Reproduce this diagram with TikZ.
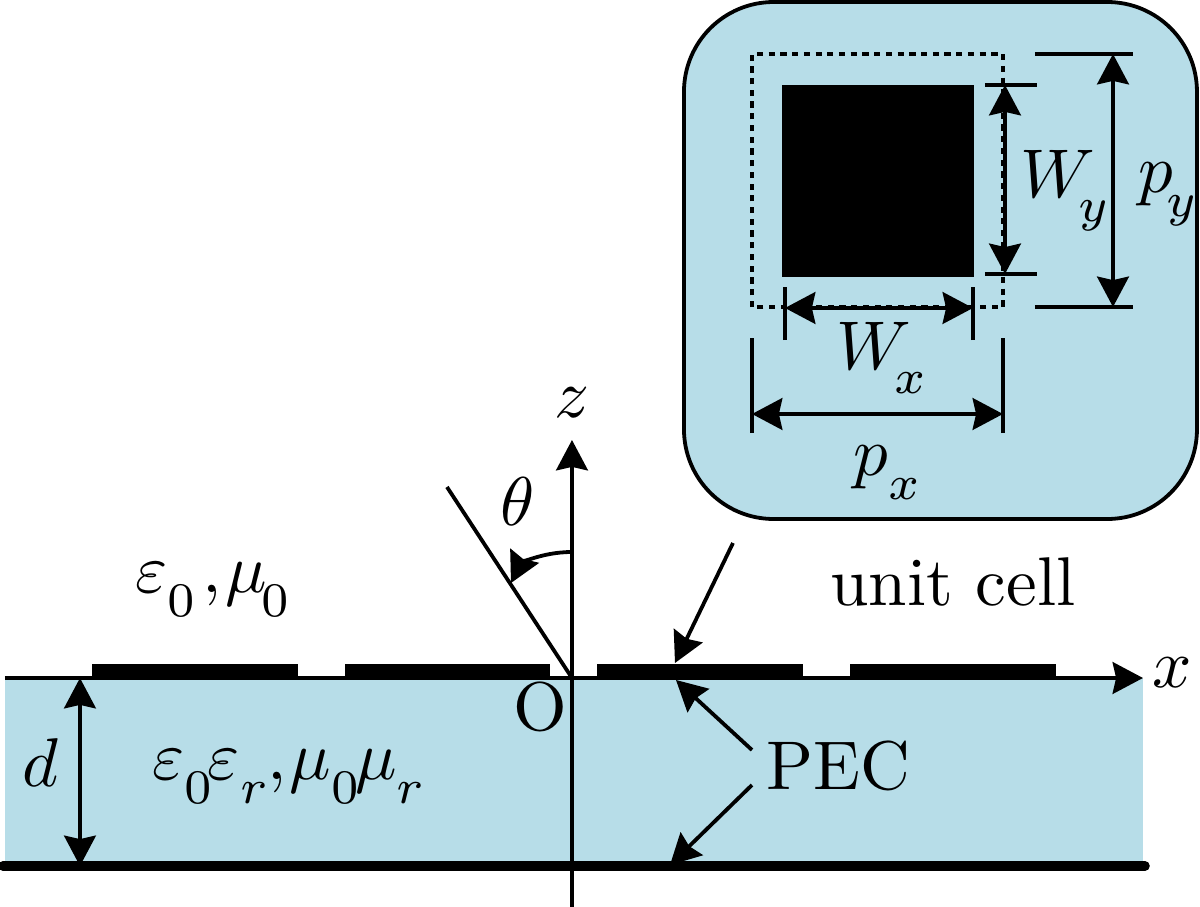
\documentclass[tikz,border=0pt]{standalone}
\usetikzlibrary{arrows.meta}
\definecolor{cellblue}{HTML}{B7DDE8}
\newcommand{\lowsub}[1]{_{\lower2pt\hbox{$\scriptstyle#1$}}}
\scriptspace=0pt
\tikzset{
  >={Stealth[length=4.4pt,width=4.6pt,inset=0.5pt]},
  label/.style={inner sep=0pt},
  tick/.style={line width=0.5pt},
}
\begin{document}
\begin{tikzpicture}[scale=0.145, line width=0.55pt]
  \useasboundingbox (-572pt,678pt) rectangle (628pt,-229pt);

  % substrate
  \fill[cellblue] (-567pt,0pt) rectangle (571pt,-188pt);
  \draw[line width=1.4pt, line cap=round] (-569pt,-188pt) -- (573pt,-188pt);

  % patches
  \fill (-480pt,0pt) rectangle (-274pt,14pt);
  \fill (-227pt,0pt) rectangle (-22pt,14pt);
  \fill (25pt,0pt) rectangle (231pt,14pt);
  \fill (278pt,0pt) rectangle (484pt,14pt);

  % axes
  \coordinate (O) at (0pt,0pt);
  \coordinate (xstart) at (-567pt,0pt);
  \coordinate (xend) at (571pt,0pt);
  \coordinate (zstart) at (0pt,-229pt);
  \coordinate (zend) at (0pt,238pt);
  \coordinate (inc) at (-125pt,191pt);
  \draw[->] (xstart) -- (xend);
  \draw[->] (zstart) -- (zend);
  \draw (O) -- (inc);
  \draw[->] (0pt,126pt) .. controls (-32pt,126pt) and (-52pt,113pt) .. (-61pt,95pt);

  \node[label] (xlab) at (600pt,5pt) {$x$};
  \node[label] (zlab) at (0pt,275pt) {$z$};
  \node[label] (theta) at (-54pt,176pt) {$\theta$};
  \node[label] (origin) at (-32pt,-29pt) {O};
  \node[label] (air) at (-360pt,88pt) {$\varepsilon\lowsub{0}\mkern2mu{,}\mkern1mu\mu\lowsub{\kern-0.8pt 0}$};
  \node[label] (sub) at (-284pt,-99pt) {$\varepsilon\lowsub{0}\mkern-1mu\varepsilon\lowsub{r}{,}\mkern1mu\mu\lowsub{0}\mkern-1mu\mu\lowsub{r}$};

  % thickness
  \coordinate (dtop) at (-492pt,0pt);
  \coordinate (dbot) at (-492pt,-188pt);
  \draw[<->] (dtop) -- (dbot);
  \node[label] (dlab) at (-532pt,-85pt) {$d$};

  % pointers
  \node[label] (pec) at (266pt,-88pt) {PEC};
  \node[label] (cell) at (381pt,96pt) {unit cell};
  \coordinate (cellfrom) at (161pt,135pt);
  \coordinate (cellto) at (103pt,15pt);
  \coordinate (pecup) at (180pt,-72pt);
  \coordinate (pecupto) at (104pt,-2pt);
  \coordinate (peclow) at (180pt,-107pt);
  \coordinate (peclowto) at (98pt,-187pt);
  \draw[->] (cellfrom) -- (cellto);
  \draw[->] (pecup) -- (pecupto);
  \draw[->] (peclow) -- (peclowto);

  % inset
  \begin{scope}[shift={(112pt,159pt)}]
  \draw[fill=cellblue, rounded corners=13pt] (0pt,0pt) rectangle (513pt,517pt);
  \draw[dash pattern=on 0.9pt off 0.8pt] (68pt,212pt) rectangle (319pt,465pt);
  \fill (98pt,242pt) rectangle (290pt,434pt);

  % W_x
  \coordinate (wxl) at (101pt,211pt);
  \coordinate (wxr) at (289pt,211pt);
  \draw[tick] (101pt,179pt) -- (101pt,232pt);
  \draw[tick] (289pt,179pt) -- (289pt,232pt);
  \draw[<->] (wxl) -- (wxr);
  \node[label] (wxlab) at (197pt,161pt) {$W\lowsub{\kern-1pt x}$};

  % p_x
  \coordinate (pxl) at (68pt,105pt);
  \coordinate (pxr) at (319pt,105pt);
  \draw[tick] (68pt,86pt) -- (68pt,181pt);
  \draw[tick] (319pt,86pt) -- (319pt,181pt);
  \draw[<->] (pxl) -- (pxr);
  \node[label] (pxlab) at (203pt,46pt) {$p\lowsub{x}$};

  % W_y
  \coordinate (wyt) at (321pt,434pt);
  \coordinate (wyb) at (321pt,245pt);
  \draw[tick] (301pt,434pt) -- (353pt,434pt);
  \draw[tick] (301pt,245pt) -- (353pt,245pt);
  \draw[<->] (wyt) -- (wyb);
  \node[label] (wylab) at (380pt,328pt) {$W\lowsub{\kern-1pt y}$};

  % p_y
  \coordinate (pyt) at (429pt,465pt);
  \coordinate (pyb) at (429pt,212pt);
  \draw[tick] (351pt,465pt) -- (449pt,465pt);
  \draw[tick] (351pt,212pt) -- (449pt,212pt);
  \draw[<->] (pyt) -- (pyb);
  \node[label] (pylab) at (483pt,325pt) {$p\lowsub{\kern-1pt y}$};
  \end{scope}
\end{tikzpicture}
\end{document}
